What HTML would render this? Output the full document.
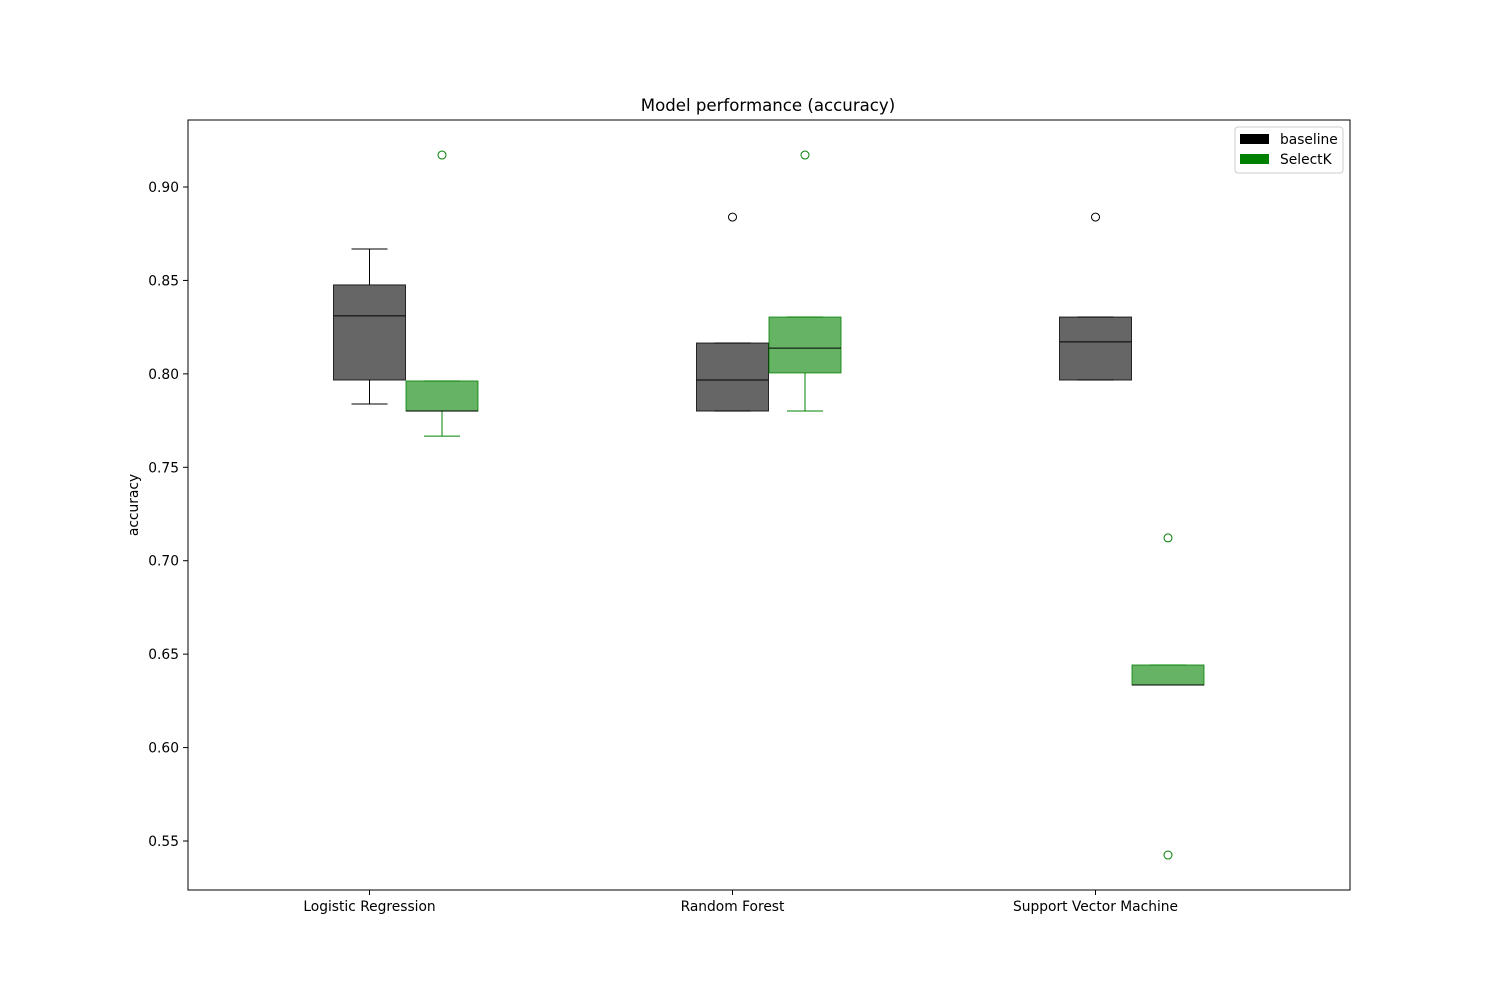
<!DOCTYPE html>
<html><head><meta charset="utf-8"><style>
body{margin:0;background:#fff}
svg{display:block;font-family:"DejaVu Sans","Liberation Sans",sans-serif}
</style></head><body>
<svg id="chart" width="1500" height="1000">
<rect width="1500" height="1000" fill="#fff"/>
<text x="768" y="111" font-size="16.6" text-anchor="middle">Model performance (accuracy)</text>
<text x="0" y="0" font-size="13.8" text-anchor="middle" transform="translate(138,505) rotate(-90)">accuracy</text>
<g id="plot"></g>
<rect x="188" y="120" width="1162" height="770" fill="none" stroke="#000" stroke-width="1"/>
<g>
<rect x="1235" y="127" width="108" height="46" rx="3" fill="#fff" stroke="#ccc"/>
<g><rect x="1240" y="134" width="29" height="10" fill="#000"/><text x="1280" y="144" font-size="13.8">baseline</text></g>
<g><rect x="1240" y="154" width="29" height="10" fill="#008000"/><text x="1280" y="164" font-size="13.8">SelectK</text></g>
</g>
</svg>
<script>
const categories=["Logistic Regression","Random Forest","Support Vector Machine"];
const yTicks=[0.55,0.60,0.65,0.70,0.75,0.80,0.85,0.90];
// [whiskerLow, Q1, median, Q3, whiskerHigh]
const baselineStats=[[0.7839,0.7967,0.8310,0.8476,0.8668],[0.7801,0.7801,0.7967,0.8165,0.8165],[0.7967,0.7967,0.8171,0.8304,0.8304]];
const selectkStats=[[0.7667,0.7801,0.7801,0.7962,0.7962],[0.7801,0.8005,0.8138,0.8304,0.8304],[0.6335,0.6335,0.6335,0.6442,0.6442]];
const baselineOutliers=[[],[0.8839],[0.8839]];
const selectkOutliers=[[0.9171],[0.9171],[0.7122,0.5425]];

const NS="http://www.w3.org/2000/svg";
const g=document.getElementById('plot');
function y(v){return 187+(0.90-v)/0.05*93.43;}
function x(i){return 369.5+i*363;}
function el(t,a){const e=document.createElementNS(NS,t);for(const k in a)e.setAttribute(k,a[k]);g.appendChild(e);return e;}
yTicks.forEach(v=>{
 const t=el('line',{x1:183,x2:188,y1:y(v),y2:y(v),stroke:'#000'});
 
 
 const l=el('text',{x:179,y:y(v)+5,'font-size':13.8,'text-anchor':'end'});l.textContent=v.toFixed(2);
 
 
});
categories.forEach((c,i)=>{
 const t=el('line',{x1:x(i),x2:x(i),y1:890,y2:895,stroke:'#000'});
 
 
 const l=el('text',{x:x(i),y:911,'font-size':13.8,'text-anchor':'middle'});l.textContent=c;
 
 
});
function drawBox(cx,s,outs,fill,edge,name){
 const w=72,cw=36;
 const parts=[
  ['line',{x1:cx,x2:cx,y1:y(s[0]),y2:y(s[1]),stroke:edge}],
  ['line',{x1:cx,x2:cx,y1:y(s[3]),y2:y(s[4]),stroke:edge}],
  ['line',{x1:cx-cw/2,x2:cx+cw/2,y1:y(s[0]),y2:y(s[0]),stroke:edge}],
  ['line',{x1:cx-cw/2,x2:cx+cw/2,y1:y(s[4]),y2:y(s[4]),stroke:edge}],
  ['rect',{x:cx-w/2,y:y(s[3]),width:w,height:Math.max(0.5,y(s[1])-y(s[3])),fill:fill,'fill-opacity':0.6,stroke:edge,'stroke-opacity':0.8}],
  ['line',{x1:cx-w/2,x2:cx+w/2,y1:y(s[2]),y2:y(s[2]),stroke:'#000'}]
 ];
 parts.forEach(p=>{const e=el(p[0],p[1]);
  
  });
 outs.forEach(o=>{const e=el('circle',{cx:cx,cy:y(o),r:4,fill:'none',stroke:edge});
  
  });
}
categories.forEach((c,i)=>{
 drawBox(x(i),baselineStats[i],baselineOutliers[i],'#000','#000','box-baseline');
 drawBox(x(i)+72.5,selectkStats[i],selectkOutliers[i],'#008000','#008000','box-selectk');
});
</script>
</body></html>
